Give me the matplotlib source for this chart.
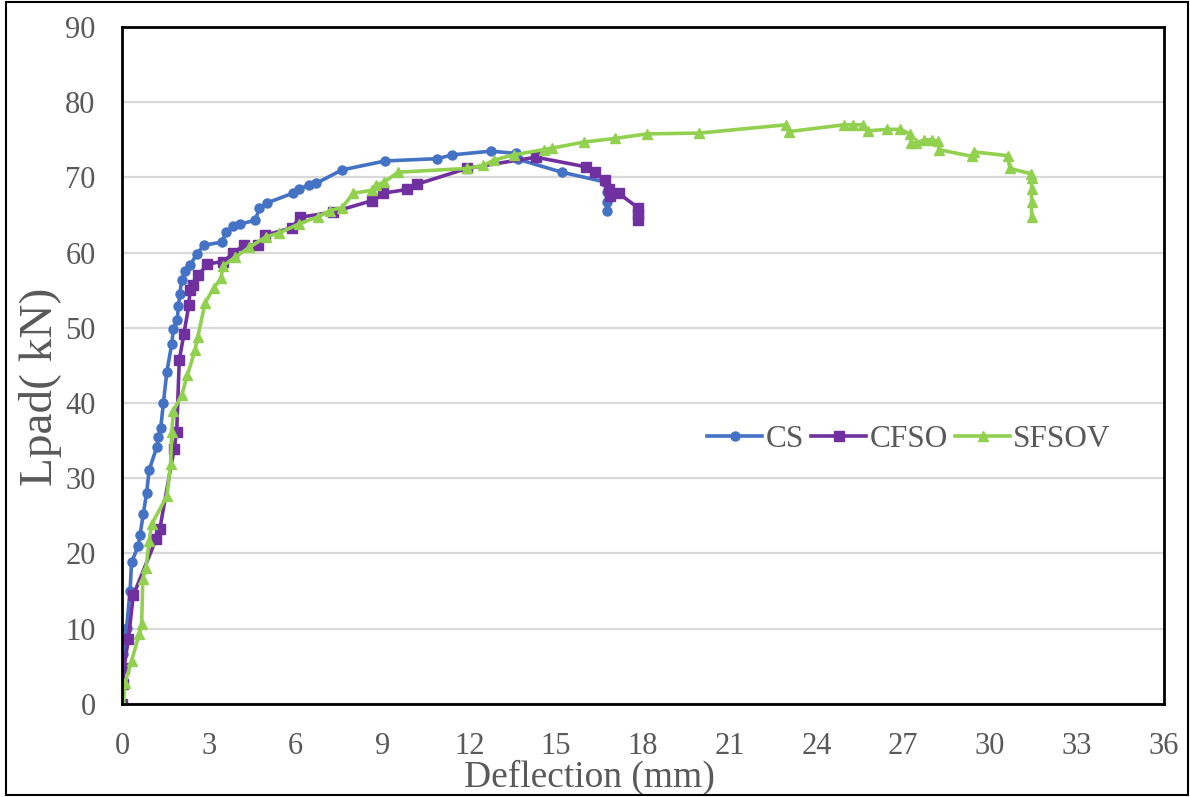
import matplotlib.pyplot as plt
from matplotlib.patches import Rectangle

# load-deflection data
cs_x = [0, 0.05, 0.16, 0.28, 0.33, 0.56, 0.62, 0.74, 0.85, 0.94, 1.2, 1.26, 1.34, 1.43,
        1.55, 1.72, 1.78, 1.91, 1.95, 2.0, 2.06, 2.18, 2.35, 2.58, 2.84, 3.45, 3.6, 3.85,
        4.08, 4.6, 4.75, 5.0, 5.9, 6.1, 6.45, 6.7, 7.6, 9.1, 10.9, 11.4, 12.75, 13.6,
        13.7, 15.2, 16.7, 16.75, 16.75, 16.75]
cs_y = [0, 6.6, 10.1, 15.0, 18.8, 21.0, 22.4, 25.3, 28.0, 31.1, 34.1, 35.5, 36.7, 40.0,
        44.1, 47.9, 49.9, 51.1, 52.9, 54.5, 56.3, 57.6, 58.3, 59.8, 61.0, 61.4, 62.8, 63.5,
        63.8, 64.3, 65.9, 66.6, 67.9, 68.4, 69.0, 69.2, 71.0, 72.2, 72.5, 73.0, 73.5, 73.2,
        72.4, 70.7, 69.4, 68.1, 66.7, 65.6]

cfso_x = [0, 0.02, 0.07, 0.22, 0.39, 1.18, 1.31, 1.8, 1.89, 1.98, 2.14, 2.31, 2.35, 2.44,
          2.64, 2.95, 3.48, 3.85, 4.2, 4.71, 4.94, 5.87, 6.15, 7.3, 8.63, 9.01, 9.84, 10.19,
          11.92, 14.3, 16.05, 16.33, 16.68, 16.84, 16.87, 17.16, 17.82, 17.84, 17.84]
cfso_y = [0, 2.6, 4.8, 8.6, 14.4, 21.9, 23.3, 33.9, 36.1, 45.7, 49.2, 53.0, 55.0, 55.7,
          57.0, 58.5, 58.8, 59.9, 61.0, 61.0, 62.3, 63.3, 64.7, 65.4, 66.9, 67.9, 68.4, 69.1,
          71.2, 72.7, 71.4, 70.7, 69.6, 68.4, 67.6, 67.9, 66.0, 65.1, 64.3]

sfsov_x = [0.05, 0.1, 0.33, 0.6, 0.68, 0.72, 0.83, 0.94, 1.03, 1.55, 1.68, 1.72, 1.78,
           2.06, 2.26, 2.52, 2.62, 2.87, 3.17, 3.43, 3.48, 3.91, 4.4, 4.97, 5.43, 6.1, 6.79,
           7.19, 7.6, 8.0, 8.63, 8.78, 9.06, 9.55, 11.92, 12.49, 12.84, 13.53, 14.57, 14.86,
           15.95, 17.05, 18.14, 19.95, 22.93, 23.04, 24.95, 25.27, 25.6, 25.78, 26.44, 26.9,
           27.22, 27.27, 27.45, 27.71, 28.0, 28.19, 28.23, 29.38, 29.44, 30.61, 30.68, 31.4,
           31.43, 31.43, 31.43, 31.43]
sfsov_y = [0, 2.7, 5.7, 9.3, 10.6, 16.6, 18.1, 21.7, 23.9, 27.6, 31.9, 36.1, 39.0,
           41.0, 43.7, 47.0, 48.8, 53.3, 55.3, 56.6, 58.2, 59.4, 60.7, 62.1, 62.6, 63.8, 64.8,
           65.6, 66.0, 67.9, 68.3, 69.0, 69.4, 70.7, 71.2, 71.6, 72.3, 73.0, 73.7, 73.9,
           74.7, 75.2, 75.8, 75.9, 77.0, 76.1, 77.0, 77.0, 77.0, 76.2, 76.4, 76.4,
           75.8, 74.6, 74.6, 75.0, 75.0, 74.8, 73.7, 72.8, 73.4, 72.9, 71.2, 70.5,
           69.9, 68.5, 66.7, 64.8]

x_ticks = list(range(0, 37, 3))
y_ticks = list(range(0, 91, 10))

grey = '#595959'
plt.rcParams['font.family'] = ['Liberation Serif', 'DejaVu Serif']

fig = plt.figure(figsize=(11.9, 7.97), dpi=100)
ax = fig.add_axes([0.1025, 0.117, 0.8755, 0.849])

ax.plot(cs_x, cs_y, color='#4472C4', lw=2.6, marker='o', ms=6.5, label='CS')
ax.plot(cfso_x, cfso_y, color='#7030A0', lw=2.6, marker='s', ms=6.5, label='CFSO')
ax.plot(sfsov_x, sfsov_y, color='#92D050', lw=2.6, marker='^', ms=7, label='SFSOV')

ax.set_xlim(0, 36)
ax.set_ylim(0, 90)
ax.set_xticks(x_ticks)
ax.set_yticks(y_ticks)
ax.tick_params(axis='both', length=0, labelsize=22, labelcolor=grey)
ax.tick_params(axis='x', pad=20)
ax.tick_params(axis='y', pad=19)
ax.grid(axis='y', color='#d9d9d9', lw=1.6)
ax.set_axisbelow(True)
for s in ax.spines.values():
    s.set_color('black')
    s.set_linewidth(2)

ax.set_xlabel('Deflection (mm)', fontsize=27, color=grey)
ax.xaxis.set_label_coords(0.449, -0.083)
ax.set_ylabel('Lpad( kN)', fontsize=34, color=grey)
ax.yaxis.set_label_coords(-0.058, 0.469)

ax.legend(loc='center left', bbox_to_anchor=(0.55, 0.39), ncol=3, frameon=False,
          fontsize=22.5, handlelength=1.75, handletextpad=0.1, columnspacing=0.25,
          labelcolor=grey, borderaxespad=0)

fig.patches.append(Rectangle((0.005, 0.002), 0.993, 0.995, transform=fig.transFigure,
                             fill=False, edgecolor='black', lw=1.5))

fig.savefig('out.png', dpi=100)
